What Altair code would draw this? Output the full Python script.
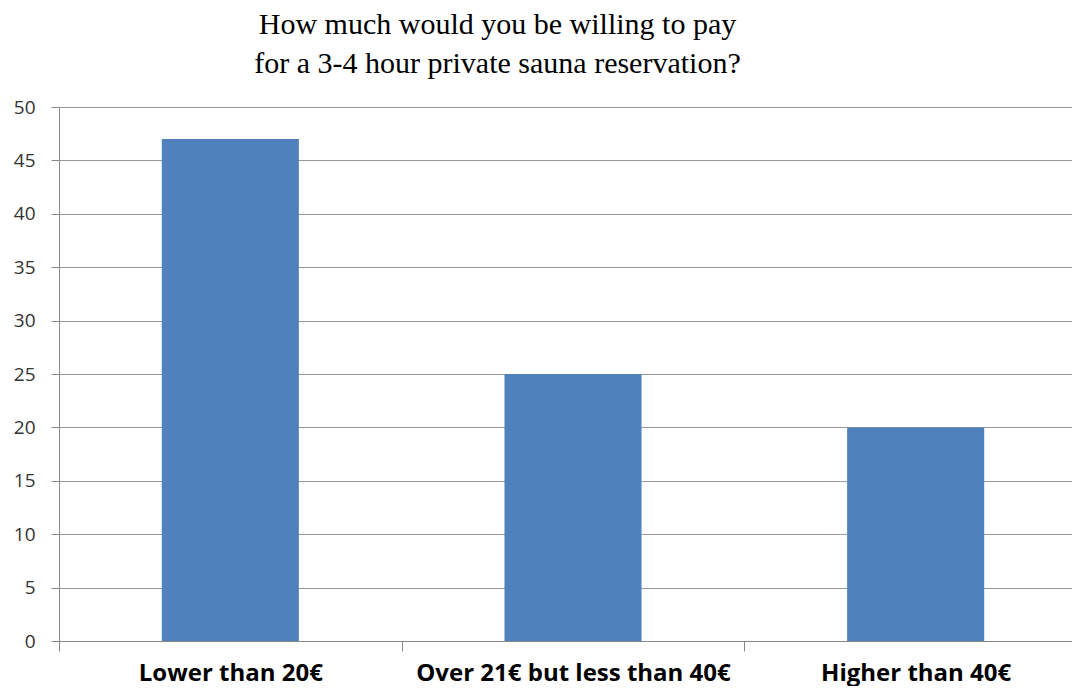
import altair as alt
import pandas as pd

categories = ["Lower than 20€", "Over 21€ but less than 40€", "Higher than 40€"]
values = [47, 25, 20]
y_ticks = [0, 5, 10, 15, 20, 25, 30, 35, 40, 45, 50]
title_lines = ["How much would you be willing to pay", "for a 3-4 hour private sauna reservation?"]

df = pd.DataFrame({"category": categories, "value": values})

chart = alt.Chart(df).mark_bar(
    color="#4F81BD", width=alt.RelativeBandSize(0.4)
).encode(
    x=alt.X("category:N", sort=categories,
            scale=alt.Scale(paddingInner=0, paddingOuter=0, range=[0, 1028]),
            axis=alt.Axis(title=None, labelAngle=0, tickBand="extent", labelLimit=0,
                          labelFont="Open Sans", labelFontWeight="bold", labelFontSize=24,
                          labelColor="#000000", labelPadding=10, tickSize=10,
                          tickColor="#888888", domainColor="#888888", grid=False)),
    y=alt.Y("value:Q", scale=alt.Scale(domain=[0, 50], nice=False),
            axis=alt.Axis(title=None, values=y_ticks, tickSize=8, tickColor="#888888",
                          domainColor="#888888", gridColor="#999999",
                          labelFont="Open Sans", labelFontSize=19, labelColor="#333333",
                          labelPadding=16)),
).properties(
    width=1013, height=534,
    title=alt.TitleParams(title_lines, font="Liberation Serif", fontSize=30,
                          fontWeight="normal", color="#000000", lineHeight=39,
                          anchor="middle", dx=-68, offset=19),
    autosize=alt.AutoSizeParams(type="none"),
    padding={"left": 51, "top": 99, "right": 0, "bottom": 45},
).configure_view(stroke=None)

chart.save("out.html", embed_options={"renderer": "svg", "actions": False})
